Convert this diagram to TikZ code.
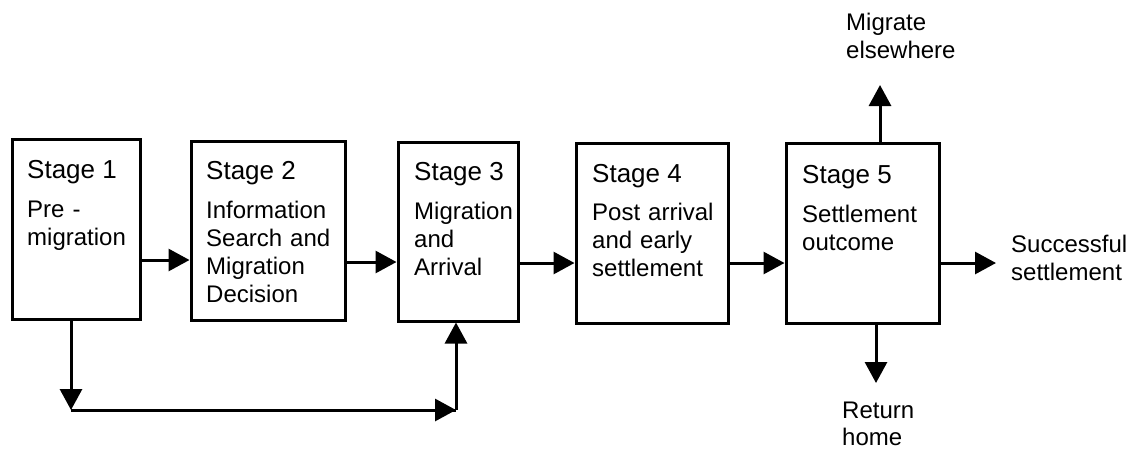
\documentclass[tikz,border=0pt]{standalone}
\usepackage{fontspec}
\setmainfont{Liberation Sans}
\usetikzlibrary{arrows.meta}
\begin{document}
\begin{tikzpicture}[x=1pt,y=-1pt,
  stagebox/.style={draw,line width=3pt,rectangle,inner sep=0pt},
  stagelabel/.style={anchor=base west,inner sep=0pt,font=\fontsize{26}{30}\selectfont},
  bodytext/.style={anchor=base west,inner sep=0pt,align=left,text width=150pt,font=\fontsize{24}{28}\selectfont},
  conn/.style={line width=3pt,-{Triangle[length=21pt,width=22pt]}},
  plain/.style={line width=3pt}]
\useasboundingbox (0,0) rectangle (1131,448);
\fill[white] (0,0) rectangle (1131,448);
% boxes
\node[stagebox,minimum width=128pt,minimum height=180pt] (b1) at (76,229) {};
\node[stagebox,minimum width=154pt,minimum height=179pt] (b2) at (268,230.5) {};
\node[stagebox,minimum width=120pt,minimum height=179pt] (b3) at (458,231.5) {};
\node[stagebox,minimum width=152pt,minimum height=180pt] (b4) at (652,233) {};
\node[stagebox,minimum width=153pt,minimum height=180pt] (b5) at (862.5,233) {};
% texts
\node[stagelabel] (s1) at (27,178) {Stage 1};
\node[bodytext] (t1) at (27,217) {Pre -\\migration};
\node[stagelabel] (s2) at (206,179) {Stage 2};
\node[bodytext] (t2) at (206,218) {Information\\Search and\\Migration\\Decision};
\node[stagelabel] (s3) at (414,180) {Stage 3};
\node[bodytext] (t3) at (414,219) {Migration\\and\\Arrival};
\node[stagelabel] (s4) at (592,182) {Stage 4};
\node[bodytext] (t4) at (592,220) {Post arrival\\and early\\settlement};
\node[stagelabel] (s5) at (802,183) {Stage 5};
\node[bodytext] (t5) at (802,222) {Settlement\\outcome};
\node[bodytext] (me) at (846,30) {Migrate\\elsewhere};
\node[bodytext,text width=125pt] (ss) at (1011,252) {Successful\\settlement};
\node[bodytext,font=\fontsize{24}{27}\selectfont] (rh) at (842,418) {Return\\home};
% coordinates
\coordinate (upend) at (880,85);
\coordinate (downend) at (876,383);
\coordinate (succend) at (996,263);
\coordinate (c1) at (71,410);
\coordinate (c2) at (456,410);
% connectors
\draw[conn] (b1.east |- 0,260) -- (b2.west |- 0,260);
\draw[conn] (b2.east |- 0,262) -- (b3.west |- 0,262);
\draw[conn] (b3.east |- 0,263) -- (b4.west |- 0,263);
\draw[conn] (b4.east |- 0,263) -- (b5.west |- 0,263);
\draw[conn] (b5.east |- succend) -- (succend);
\draw[conn] (upend |- b5.north) -- (upend);
\draw[conn] (downend |- b5.south) -- (downend);
\draw[conn] (c1 |- b1.south) -- (c1);
\draw[plain] (c1) -- (c2);
\draw[conn] (c1) -- (c2);
\draw[conn] (c2) -- (c2 |- b3.south);
\end{tikzpicture}
\end{document}
